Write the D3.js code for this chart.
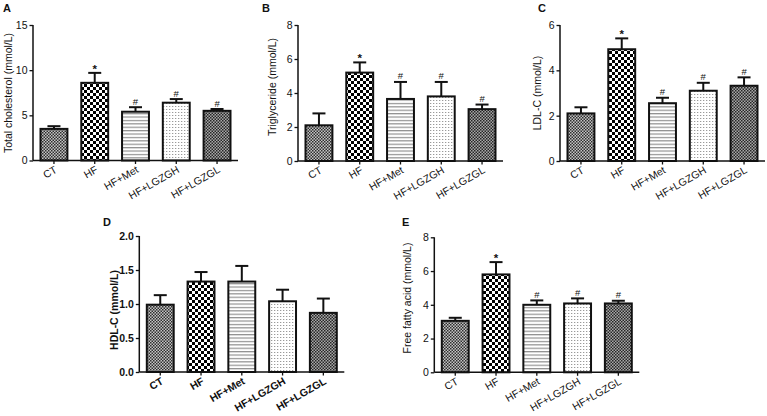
<!DOCTYPE html>
<html>
<head>
<meta charset="utf-8">
<script src="https://cdn.jsdelivr.net/npm/d3@7"></script>
<style>
  html, body { margin: 0; padding: 0; background: #fff; }
  svg { display: block; }
</style>
</head>
<body>
<svg id="chart" width="767" height="416"></svg>
<script>
// ---------- DATA ----------
const categories = ["CT", "HF", "HF+Met", "HF+LGZGH", "HF+LGZGL"];

const tcMean = [3.5, 8.6, 5.4, 6.4, 5.5];
const tcErr  = [0.3, 1.1, 0.5, 0.4, 0.2];
const tcMarks = ["", "*", "#", "#", "#"];
const tcTicks = [0, 5, 10, 15];

const tgMean = [2.1, 5.2, 3.65, 3.8, 3.05];
const tgErr  = [0.7, 0.6, 1.0, 0.85, 0.27];
const tgMarks = ["", "*", "#", "#", "#"];
const tgTicks = [0, 2, 4, 6, 8];

const ldlMean = [2.1, 4.93, 2.55, 3.1, 3.32];
const ldlErr  = [0.27, 0.48, 0.24, 0.35, 0.37];
const ldlMarks = ["", "*", "#", "#", "#"];
const ldlTicks = [0, 2, 4, 6];

const hdlMean = [0.99, 1.33, 1.33, 1.04, 0.87];
const hdlErr  = [0.14, 0.14, 0.23, 0.17, 0.21];
const hdlMarks = ["", "", "", "", ""];
const hdlTicks = [0, 0.5, 1.0, 1.5, 2.0];

const ffaMean = [3.05, 5.8, 4.0, 4.08, 4.08];
const ffaErr  = [0.18, 0.73, 0.26, 0.3, 0.16];
const ffaMarks = ["", "*", "#", "#", "#"];
const ffaTicks = [0, 2, 4, 6, 8];

// ---------- DRAWING ----------
const svg = d3.select("#chart");
svg.append("rect").attr("width", 767).attr("height", 416).attr("fill", "#fff");
const FONT = "'Liberation Sans', Arial, Helvetica, sans-serif";
const defs = svg.append("defs");

function checker(id, size, c1, c2) {
  const p = defs.append("pattern").attr("id", id).attr("patternUnits", "userSpaceOnUse")
    .attr("width", size * 2).attr("height", size * 2);
  p.append("rect").attr("width", size * 2).attr("height", size * 2).attr("fill", c2);
  p.append("rect").attr("x", 0).attr("y", 0).attr("width", size).attr("height", size).attr("fill", c1);
  p.append("rect").attr("x", size).attr("y", size).attr("width", size).attr("height", size).attr("fill", c1);
}
checker("pCT", 1.5, "#2e2e2e", "#c4c4c4");
checker("pHF", 3, "#000", "#fff");
checker("pGL", 1.5, "#262626", "#a8a8a8");
{
  const p = defs.append("pattern").attr("id", "pMet").attr("patternUnits", "userSpaceOnUse")
    .attr("width", 10).attr("height", 3.4);
  p.append("rect").attr("width", 10).attr("height", 3.4).attr("fill", "#fff");
  p.append("rect").attr("x", 0).attr("y", 1).attr("width", 10).attr("height", 1).attr("fill", "#7a7a7a");
}
{
  const p = defs.append("pattern").attr("id", "pGH").attr("patternUnits", "userSpaceOnUse")
    .attr("width", 3).attr("height", 3);
  p.append("rect").attr("width", 3).attr("height", 3).attr("fill", "#fff");
  p.append("rect").attr("x", 1).attr("y", 1).attr("width", 1.3).attr("height", 1).attr("fill", "#9a9a9a");
}
const fills = ["url(#pCT)", "url(#pHF)", "url(#pMet)", "url(#pGH)", "url(#pGL)"];

function panel(o) {
  const g = svg.append("g");
  const bold = o.bold ? "bold" : "normal";
  const x = d3.scaleBand().domain(categories)
    .range([o.ax, o.ax + 205]).paddingInner(0.34).paddingOuter(0.184);
  const y = d3.scaleLinear().domain([0, o.ticks[o.ticks.length - 1]]).range([o.y0, o.y1]);

  g.append("text").attr("x", o.lx).attr("y", o.ly).text(o.letter)
    .attr("font-family", FONT).attr("font-weight", "bold").attr("font-size", 11).attr("fill", "#111");

  g.selectAll("rect.bar").data(o.mean).join("rect").attr("class", "bar")
    .attr("x", (d, i) => x(categories[i]))
    .attr("width", x.bandwidth())
    .attr("y", d => y(d))
    .attr("height", d => y(0) - y(d))
    .attr("fill", (d, i) => fills[i])
    .attr("stroke", "#111").attr("stroke-width", 2);

  o.mean.forEach((m, i) => {
    const cx = x(categories[i]) + x.bandwidth() / 2;
    const top = y(m + o.err[i]);
    g.append("line").attr("x1", cx).attr("x2", cx).attr("y1", y(m)).attr("y2", top)
      .attr("stroke", "#111").attr("stroke-width", 2);
    g.append("line").attr("x1", cx - 6.5).attr("x2", cx + 6.5).attr("y1", top).attr("y2", top)
      .attr("stroke", "#111").attr("stroke-width", 2);
    if (o.marks[i]) {
      const star = o.marks[i] === "*";
      g.append("text").attr("x", cx).attr("y", top - (star ? 0 : 2.5)).text(o.marks[i])
        .attr("text-anchor", "middle").attr("font-family", FONT)
        .attr("font-size", star ? 11.5 : 9.5).attr("font-weight", star ? "bold" : "normal")
        .attr("fill", "#111");
    }
  });

  const ya = g.append("g").attr("transform", `translate(${o.ax},0)`)
    .call(d3.axisLeft(y).tickValues(o.ticks).tickSize(3.5).tickPadding(2)
      .tickFormat(o.fmt ? d3.format(o.fmt) : d3.format("d")));
  ya.select(".domain").attr("stroke", "#111").attr("stroke-width", 1.5).attr("d", `M0,${o.y0}V${o.y1}`);
  ya.selectAll(".tick line").attr("stroke", "#111").attr("stroke-width", 1.3);
  ya.selectAll(".tick text").attr("font-family", FONT).attr("font-size", 10.5)
    .attr("font-weight", bold).attr("fill", "#111");

  const xa = g.append("g").attr("transform", `translate(0,${o.y0})`)
    .call(d3.axisBottom(x).tickSize(3.5).tickPadding(3));
  xa.select(".domain").attr("stroke", "#111").attr("stroke-width", 1.5)
    .attr("d", `M${o.ax},0H${o.ax + 205}`);
  xa.selectAll(".tick line").attr("stroke", "#111").attr("stroke-width", 1.3);
  xa.selectAll(".tick text")
    .attr("font-family", FONT).attr("font-size", 10.5).attr("font-weight", bold).attr("fill", "#111")
    .attr("text-anchor", "end").attr("dy", "0.35em")
    .attr("transform", "translate(2,8) rotate(-30)").attr("y", 0).attr("x", 0);

  g.append("text")
    .attr("transform", `translate(${o.tx},${o.ty}) rotate(-90)`)
    .attr("text-anchor", "middle").attr("dy", "0.35em")
    .attr("font-family", FONT).attr("font-size", 10.5).attr("font-weight", bold).attr("fill", "#111")
    .text(o.title);
}

panel({ letter: "A", lx: 3, ly: 12, ax: 33, y0: 160.5, y1: 25, ticks: tcTicks,
  mean: tcMean, err: tcErr, marks: tcMarks, title: "Total cholesterol  (mmol/L)", tx: 8, ty: 93 });
panel({ letter: "B", lx: 262, ly: 12, ax: 298, y0: 161, y1: 25, ticks: tgTicks,
  mean: tgMean, err: tgErr, marks: tgMarks, title: "Triglyceride (mmol/L)", tx: 272, ty: 87 });
panel({ letter: "C", lx: 538, ly: 12, ax: 560, y0: 161, y1: 25, ticks: ldlTicks,
  mean: ldlMean, err: ldlErr, marks: ldlMarks, title: "LDL-C (mmol/L)", tx: 537, ty: 93 });
panel({ letter: "D", lx: 103, ly: 226, ax: 139.3, y0: 372, y1: 236, ticks: hdlTicks, fmt: ".1f", bold: true,
  mean: hdlMean, err: hdlErr, marks: hdlMarks, title: "HDL-C (mmol/L)", tx: 114, ty: 310 });
panel({ letter: "E", lx: 402, ly: 226, ax: 434.3, y0: 372.3, y1: 237.3, ticks: ffaTicks,
  mean: ffaMean, err: ffaErr, marks: ffaMarks, title: "Free fatty acid (mmol/L)", tx: 407, ty: 298 });
</script>
</body>
</html>
